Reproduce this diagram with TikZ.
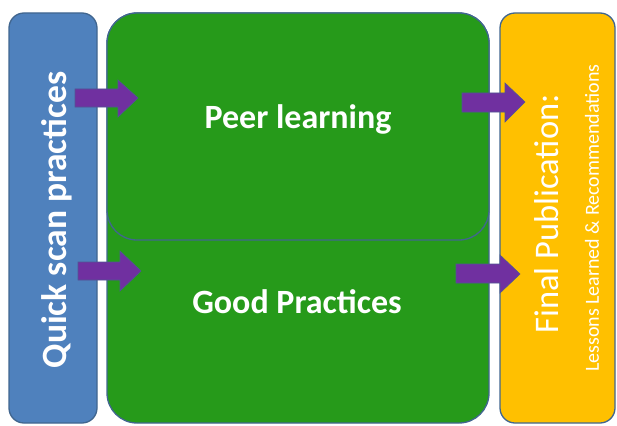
\documentclass[tikz,border=0pt]{standalone}
\usepackage{fontspec}
\setmainfont{Carlito}
\definecolor{boxblue}{HTML}{4F81BD}
\definecolor{boxgreen}{HTML}{269A1A}
\definecolor{boxgold}{HTML}{FFC000}
\definecolor{arrowpurple}{HTML}{7030A0}
\definecolor{edgeblue}{HTML}{41668F}
\begin{document}
\begin{tikzpicture}[x=1pt,y=-1pt,
  panel/.style={draw=edgeblue, line width=1.3pt},
  blockarrow/.style={fill=arrowpurple, draw=edgeblue!70!arrowpurple, line width=0.6pt},
  boldtext/.style={text=white, inner sep=0pt, font=\bfseries\fontsize{34}{40}\selectfont},
  plaintext/.style={text=white, inner sep=0pt, font=\fontsize{34.5}{40}\selectfont},
  smalltext/.style={text=white, inner sep=0pt, font=\fontsize{20}{24}\selectfont}]
\useasboundingbox (0,0) rectangle (617,425);

% side panels
\draw[panel, fill=boxblue, rounded corners=15pt] (9,13) rectangle (97,423);
\draw[panel, fill=boxgold, rounded corners=15pt] (500,13) rectangle (615,423);

% central stack: good practices behind, peer learning in front
\draw[panel, fill=boxgreen, rounded corners=30pt] (107,13) rectangle (489,423);
\draw[panel, fill=boxgreen, rounded corners=30pt] (107,13) rectangle (489,240);

% labels
\node[boldtext] (peer) at (298,119) {Peer learning};
\node[boldtext] (good) at (297,302) {Good Practices};
\node[boldtext, font=\bfseries\fontsize{35.5}{40}\selectfont, rotate=90] (quick) at (57,220) {Quick scan practices};
\node[plaintext, rotate=90] (final) at (547,214) {Final Publication:};
\node[smalltext, rotate=90] (lessons) at (592,218) {Lessons Learned \& Recommendations};

% block arrows
\draw[blockarrow] (75,89) -- (118,89) -- (118,80) -- (138,98) -- (118,117) -- (118,107) -- (75,107) -- cycle;
\draw[blockarrow] (78,262) -- (120,262) -- (120,251) -- (141,271) -- (120,291) -- (120,280) -- (78,280) -- cycle;
\draw[blockarrow] (462,93) -- (505,93) -- (505,83) -- (525,102) -- (505,122) -- (505,112) -- (462,112) -- cycle;
\draw[blockarrow] (456,264) -- (500,264) -- (500,255) -- (520,274) -- (500,293) -- (500,283) -- (456,283) -- cycle;
\end{tikzpicture}
\end{document}
